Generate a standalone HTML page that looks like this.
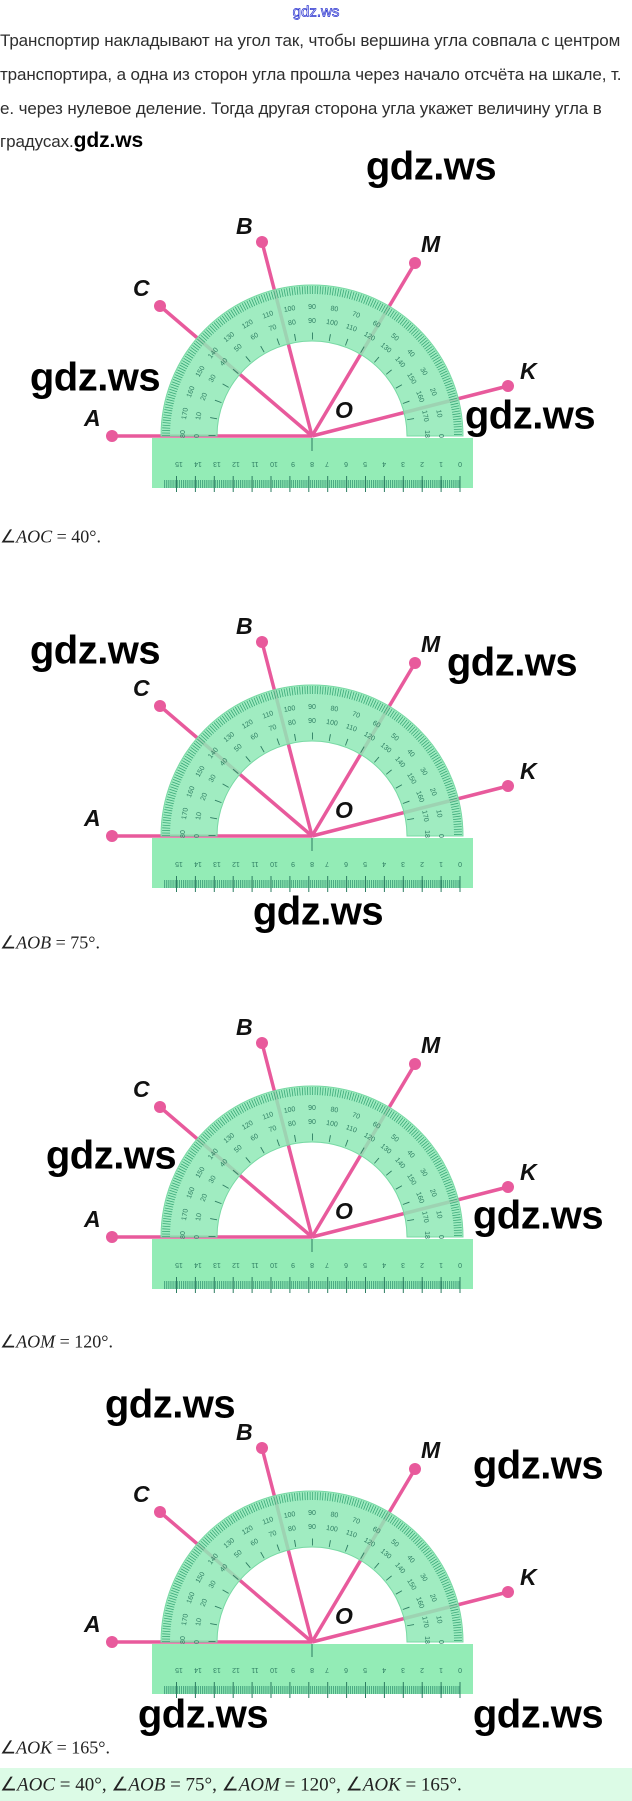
<!DOCTYPE html>
<html><head><meta charset="utf-8"><style>
body{margin:0;width:632px;height:1801px;background:#fff;position:relative;overflow:hidden;font-family:"Liberation Sans",sans-serif}
.t{position:absolute;left:0;white-space:nowrap;font-size:17px;color:#2e2e2e;line-height:34px;letter-spacing:-0.1px}
.w{position:absolute;font-family:"Liberation Sans",sans-serif;font-weight:bold;font-size:40px;color:#000;transform:translate(-50%,-50%);white-space:nowrap;letter-spacing:-0.5px}
.cap{position:absolute;left:0;font-family:"Liberation Serif",serif;font-size:18px;color:#222;transform:translateY(-50%);white-space:nowrap}
svg{position:absolute;left:0}
.lb{font-family:"Liberation Sans",sans-serif;font-weight:bold;font-style:italic;font-size:23px;fill:#111}
.n{font-family:"Liberation Sans",sans-serif;font-size:7px;fill:#2e7d62;text-anchor:middle}
</style></head><body>
<div style="position:absolute;left:316px;top:12px;transform:translate(-50%,-50%);font-size:15px;color:#fff;-webkit-text-stroke:0.7px #2a33d0">gdz.ws</div>
<div class="t" style="top:24px">Транспортир накладывают на угол так, чтобы вершина угла совпала с центром</div>
<div class="t" style="top:58px">транспортира, а одна из сторон угла прошла через начало отсчёта на шкале, т.</div>
<div class="t" style="top:92px">е. через нулевое деление. Тогда другая сторона угла укажет величину угла в</div>
<div class="t" style="top:124px">градусах.<span style="font-size:21px;color:#000;font-weight:bold">gdz.ws</span></div>

<svg style="top:206px" width="632" height="290" viewBox="0 0 632 290">
<g stroke="#e85a9c" stroke-width="3.5"><line x1="312" y1="230" x2="112" y2="230"/><line x1="312" y1="230" x2="160" y2="100"/><line x1="312" y1="230" x2="262" y2="36"/><line x1="312" y1="230" x2="415" y2="57"/><line x1="312" y1="230" x2="508" y2="180"/></g>
<g fill="#e85a9c"><circle cx="112" cy="230" r="6"/><circle cx="160" cy="100" r="6"/><circle cx="262" cy="36" r="6"/><circle cx="415" cy="57" r="6"/><circle cx="508" cy="180" r="6"/></g>
<g transform="translate(312,230)">
<path d="M-151,0 A151,151 0 0 1 151,0 L95,0 A95,95 0 0 0 -95,0 Z" fill="#8fe9b6" fill-opacity=".85" stroke="#78d9a4"/>
<path d="M-146,0 A146,146 0 0 1 146,0" fill="none" stroke="#3aa878" stroke-width="8" stroke-dasharray="0.8 1.75"/>
<path d="M-100,0 A100,100 0 0 1 100,0" fill="none" stroke="#2e7d62" stroke-width="7" stroke-dasharray="0.9 16.55"/>
<g class="n"><text transform="rotate(-90)translate(0,-127)">180</text><text transform="rotate(-80)translate(0,-127)">170</text><text transform="rotate(-70)translate(0,-127)">160</text><text transform="rotate(-60)translate(0,-127)">150</text><text transform="rotate(-50)translate(0,-127)">140</text><text transform="rotate(-40)translate(0,-127)">130</text><text transform="rotate(-30)translate(0,-127)">120</text><text transform="rotate(-20)translate(0,-127)">110</text><text transform="rotate(-10)translate(0,-127)">100</text><text transform="translate(0,-127)">90</text><text transform="rotate(10)translate(0,-127)">80</text><text transform="rotate(20)translate(0,-127)">70</text><text transform="rotate(30)translate(0,-127)">60</text><text transform="rotate(40)translate(0,-127)">50</text><text transform="rotate(50)translate(0,-127)">40</text><text transform="rotate(60)translate(0,-127)">30</text><text transform="rotate(70)translate(0,-127)">20</text><text transform="rotate(80)translate(0,-127)">10</text><text transform="rotate(90)translate(0,-127)">0</text>
<text transform="rotate(-90)translate(0,-113)">0</text><text transform="rotate(-80)translate(0,-113)">10</text><text transform="rotate(-70)translate(0,-113)">20</text><text transform="rotate(-60)translate(0,-113)">30</text><text transform="rotate(-50)translate(0,-113)">40</text><text transform="rotate(-40)translate(0,-113)">50</text><text transform="rotate(-30)translate(0,-113)">60</text><text transform="rotate(-20)translate(0,-113)">70</text><text transform="rotate(-10)translate(0,-113)">80</text><text transform="translate(0,-113)">90</text><text transform="rotate(10)translate(0,-113)">100</text><text transform="rotate(20)translate(0,-113)">110</text><text transform="rotate(30)translate(0,-113)">120</text><text transform="rotate(40)translate(0,-113)">130</text><text transform="rotate(50)translate(0,-113)">140</text><text transform="rotate(60)translate(0,-113)">150</text><text transform="rotate(70)translate(0,-113)">160</text><text transform="rotate(80)translate(0,-113)">170</text><text transform="rotate(90)translate(0,-113)">180</text></g>
<rect x="-160" y="2" width="321" height="50" fill="#93ecb6"/>
<line x1="0" y1="2" x2="0" y2="15" stroke="#2e7d62"/>
<path d="M-148,48 H148" stroke="#3a9a78" stroke-width="8" stroke-dasharray="0.8 1.1"/>
<path d="M-136,48 H150" stroke="#2e7d62" stroke-width="16" stroke-dasharray="1 17.9"/>
<g class="n" transform="rotate(180)"><text x="-148" y="-26">0</text><text x="-129" y="-26">1</text><text x="-110" y="-26">2</text><text x="-91" y="-26">3</text><text x="-72" y="-26">4</text><text x="-53" y="-26">5</text><text x="-34" y="-26">6</text><text x="-15" y="-26">7</text><text x="0" y="-26">8</text><text x="19" y="-26">9</text><text x="38" y="-26">10</text><text x="57" y="-26">11</text><text x="76" y="-26">12</text><text x="95" y="-26">13</text><text x="114" y="-26">14</text><text x="133" y="-26">15</text></g>
</g>
<text class="lb" x="84" y="220">A</text><text class="lb" x="133" y="90">C</text><text class="lb" x="236" y="28">B</text><text class="lb" x="421" y="46">M</text><text class="lb" x="520" y="173">K</text><text class="lb" x="335" y="212">O</text>
</svg>

<svg style="top:606px" width="632" height="290" viewBox="0 0 632 290">
<g stroke="#e85a9c" stroke-width="3.5"><line x1="312" y1="230" x2="112" y2="230"/><line x1="312" y1="230" x2="160" y2="100"/><line x1="312" y1="230" x2="262" y2="36"/><line x1="312" y1="230" x2="415" y2="57"/><line x1="312" y1="230" x2="508" y2="180"/></g>
<g fill="#e85a9c"><circle cx="112" cy="230" r="6"/><circle cx="160" cy="100" r="6"/><circle cx="262" cy="36" r="6"/><circle cx="415" cy="57" r="6"/><circle cx="508" cy="180" r="6"/></g>
<g transform="translate(312,230)">
<path d="M-151,0 A151,151 0 0 1 151,0 L95,0 A95,95 0 0 0 -95,0 Z" fill="#8fe9b6" fill-opacity=".85" stroke="#78d9a4"/>
<path d="M-146,0 A146,146 0 0 1 146,0" fill="none" stroke="#3aa878" stroke-width="8" stroke-dasharray="0.8 1.75"/>
<path d="M-100,0 A100,100 0 0 1 100,0" fill="none" stroke="#2e7d62" stroke-width="7" stroke-dasharray="0.9 16.55"/>
<g class="n"><text transform="rotate(-90)translate(0,-127)">180</text><text transform="rotate(-80)translate(0,-127)">170</text><text transform="rotate(-70)translate(0,-127)">160</text><text transform="rotate(-60)translate(0,-127)">150</text><text transform="rotate(-50)translate(0,-127)">140</text><text transform="rotate(-40)translate(0,-127)">130</text><text transform="rotate(-30)translate(0,-127)">120</text><text transform="rotate(-20)translate(0,-127)">110</text><text transform="rotate(-10)translate(0,-127)">100</text><text transform="translate(0,-127)">90</text><text transform="rotate(10)translate(0,-127)">80</text><text transform="rotate(20)translate(0,-127)">70</text><text transform="rotate(30)translate(0,-127)">60</text><text transform="rotate(40)translate(0,-127)">50</text><text transform="rotate(50)translate(0,-127)">40</text><text transform="rotate(60)translate(0,-127)">30</text><text transform="rotate(70)translate(0,-127)">20</text><text transform="rotate(80)translate(0,-127)">10</text><text transform="rotate(90)translate(0,-127)">0</text>
<text transform="rotate(-90)translate(0,-113)">0</text><text transform="rotate(-80)translate(0,-113)">10</text><text transform="rotate(-70)translate(0,-113)">20</text><text transform="rotate(-60)translate(0,-113)">30</text><text transform="rotate(-50)translate(0,-113)">40</text><text transform="rotate(-40)translate(0,-113)">50</text><text transform="rotate(-30)translate(0,-113)">60</text><text transform="rotate(-20)translate(0,-113)">70</text><text transform="rotate(-10)translate(0,-113)">80</text><text transform="translate(0,-113)">90</text><text transform="rotate(10)translate(0,-113)">100</text><text transform="rotate(20)translate(0,-113)">110</text><text transform="rotate(30)translate(0,-113)">120</text><text transform="rotate(40)translate(0,-113)">130</text><text transform="rotate(50)translate(0,-113)">140</text><text transform="rotate(60)translate(0,-113)">150</text><text transform="rotate(70)translate(0,-113)">160</text><text transform="rotate(80)translate(0,-113)">170</text><text transform="rotate(90)translate(0,-113)">180</text></g>
<rect x="-160" y="2" width="321" height="50" fill="#93ecb6"/>
<line x1="0" y1="2" x2="0" y2="15" stroke="#2e7d62"/>
<path d="M-148,48 H148" stroke="#3a9a78" stroke-width="8" stroke-dasharray="0.8 1.1"/>
<path d="M-136,48 H150" stroke="#2e7d62" stroke-width="16" stroke-dasharray="1 17.9"/>
<g class="n" transform="rotate(180)"><text x="-148" y="-26">0</text><text x="-129" y="-26">1</text><text x="-110" y="-26">2</text><text x="-91" y="-26">3</text><text x="-72" y="-26">4</text><text x="-53" y="-26">5</text><text x="-34" y="-26">6</text><text x="-15" y="-26">7</text><text x="0" y="-26">8</text><text x="19" y="-26">9</text><text x="38" y="-26">10</text><text x="57" y="-26">11</text><text x="76" y="-26">12</text><text x="95" y="-26">13</text><text x="114" y="-26">14</text><text x="133" y="-26">15</text></g>
</g>
<text class="lb" x="84" y="220">A</text><text class="lb" x="133" y="90">C</text><text class="lb" x="236" y="28">B</text><text class="lb" x="421" y="46">M</text><text class="lb" x="520" y="173">K</text><text class="lb" x="335" y="212">O</text>
</svg>

<svg style="top:1007px" width="632" height="290" viewBox="0 0 632 290">
<g stroke="#e85a9c" stroke-width="3.5"><line x1="312" y1="230" x2="112" y2="230"/><line x1="312" y1="230" x2="160" y2="100"/><line x1="312" y1="230" x2="262" y2="36"/><line x1="312" y1="230" x2="415" y2="57"/><line x1="312" y1="230" x2="508" y2="180"/></g>
<g fill="#e85a9c"><circle cx="112" cy="230" r="6"/><circle cx="160" cy="100" r="6"/><circle cx="262" cy="36" r="6"/><circle cx="415" cy="57" r="6"/><circle cx="508" cy="180" r="6"/></g>
<g transform="translate(312,230)">
<path d="M-151,0 A151,151 0 0 1 151,0 L95,0 A95,95 0 0 0 -95,0 Z" fill="#8fe9b6" fill-opacity=".85" stroke="#78d9a4"/>
<path d="M-146,0 A146,146 0 0 1 146,0" fill="none" stroke="#3aa878" stroke-width="8" stroke-dasharray="0.8 1.75"/>
<path d="M-100,0 A100,100 0 0 1 100,0" fill="none" stroke="#2e7d62" stroke-width="7" stroke-dasharray="0.9 16.55"/>
<g class="n"><text transform="rotate(-90)translate(0,-127)">180</text><text transform="rotate(-80)translate(0,-127)">170</text><text transform="rotate(-70)translate(0,-127)">160</text><text transform="rotate(-60)translate(0,-127)">150</text><text transform="rotate(-50)translate(0,-127)">140</text><text transform="rotate(-40)translate(0,-127)">130</text><text transform="rotate(-30)translate(0,-127)">120</text><text transform="rotate(-20)translate(0,-127)">110</text><text transform="rotate(-10)translate(0,-127)">100</text><text transform="translate(0,-127)">90</text><text transform="rotate(10)translate(0,-127)">80</text><text transform="rotate(20)translate(0,-127)">70</text><text transform="rotate(30)translate(0,-127)">60</text><text transform="rotate(40)translate(0,-127)">50</text><text transform="rotate(50)translate(0,-127)">40</text><text transform="rotate(60)translate(0,-127)">30</text><text transform="rotate(70)translate(0,-127)">20</text><text transform="rotate(80)translate(0,-127)">10</text><text transform="rotate(90)translate(0,-127)">0</text>
<text transform="rotate(-90)translate(0,-113)">0</text><text transform="rotate(-80)translate(0,-113)">10</text><text transform="rotate(-70)translate(0,-113)">20</text><text transform="rotate(-60)translate(0,-113)">30</text><text transform="rotate(-50)translate(0,-113)">40</text><text transform="rotate(-40)translate(0,-113)">50</text><text transform="rotate(-30)translate(0,-113)">60</text><text transform="rotate(-20)translate(0,-113)">70</text><text transform="rotate(-10)translate(0,-113)">80</text><text transform="translate(0,-113)">90</text><text transform="rotate(10)translate(0,-113)">100</text><text transform="rotate(20)translate(0,-113)">110</text><text transform="rotate(30)translate(0,-113)">120</text><text transform="rotate(40)translate(0,-113)">130</text><text transform="rotate(50)translate(0,-113)">140</text><text transform="rotate(60)translate(0,-113)">150</text><text transform="rotate(70)translate(0,-113)">160</text><text transform="rotate(80)translate(0,-113)">170</text><text transform="rotate(90)translate(0,-113)">180</text></g>
<rect x="-160" y="2" width="321" height="50" fill="#93ecb6"/>
<line x1="0" y1="2" x2="0" y2="15" stroke="#2e7d62"/>
<path d="M-148,48 H148" stroke="#3a9a78" stroke-width="8" stroke-dasharray="0.8 1.1"/>
<path d="M-136,48 H150" stroke="#2e7d62" stroke-width="16" stroke-dasharray="1 17.9"/>
<g class="n" transform="rotate(180)"><text x="-148" y="-26">0</text><text x="-129" y="-26">1</text><text x="-110" y="-26">2</text><text x="-91" y="-26">3</text><text x="-72" y="-26">4</text><text x="-53" y="-26">5</text><text x="-34" y="-26">6</text><text x="-15" y="-26">7</text><text x="0" y="-26">8</text><text x="19" y="-26">9</text><text x="38" y="-26">10</text><text x="57" y="-26">11</text><text x="76" y="-26">12</text><text x="95" y="-26">13</text><text x="114" y="-26">14</text><text x="133" y="-26">15</text></g>
</g>
<text class="lb" x="84" y="220">A</text><text class="lb" x="133" y="90">C</text><text class="lb" x="236" y="28">B</text><text class="lb" x="421" y="46">M</text><text class="lb" x="520" y="173">K</text><text class="lb" x="335" y="212">O</text>
</svg>

<svg style="top:1412px" width="632" height="290" viewBox="0 0 632 290">
<g stroke="#e85a9c" stroke-width="3.5"><line x1="312" y1="230" x2="112" y2="230"/><line x1="312" y1="230" x2="160" y2="100"/><line x1="312" y1="230" x2="262" y2="36"/><line x1="312" y1="230" x2="415" y2="57"/><line x1="312" y1="230" x2="508" y2="180"/></g>
<g fill="#e85a9c"><circle cx="112" cy="230" r="6"/><circle cx="160" cy="100" r="6"/><circle cx="262" cy="36" r="6"/><circle cx="415" cy="57" r="6"/><circle cx="508" cy="180" r="6"/></g>
<g transform="translate(312,230)">
<path d="M-151,0 A151,151 0 0 1 151,0 L95,0 A95,95 0 0 0 -95,0 Z" fill="#8fe9b6" fill-opacity=".85" stroke="#78d9a4"/>
<path d="M-146,0 A146,146 0 0 1 146,0" fill="none" stroke="#3aa878" stroke-width="8" stroke-dasharray="0.8 1.75"/>
<path d="M-100,0 A100,100 0 0 1 100,0" fill="none" stroke="#2e7d62" stroke-width="7" stroke-dasharray="0.9 16.55"/>
<g class="n"><text transform="rotate(-90)translate(0,-127)">180</text><text transform="rotate(-80)translate(0,-127)">170</text><text transform="rotate(-70)translate(0,-127)">160</text><text transform="rotate(-60)translate(0,-127)">150</text><text transform="rotate(-50)translate(0,-127)">140</text><text transform="rotate(-40)translate(0,-127)">130</text><text transform="rotate(-30)translate(0,-127)">120</text><text transform="rotate(-20)translate(0,-127)">110</text><text transform="rotate(-10)translate(0,-127)">100</text><text transform="translate(0,-127)">90</text><text transform="rotate(10)translate(0,-127)">80</text><text transform="rotate(20)translate(0,-127)">70</text><text transform="rotate(30)translate(0,-127)">60</text><text transform="rotate(40)translate(0,-127)">50</text><text transform="rotate(50)translate(0,-127)">40</text><text transform="rotate(60)translate(0,-127)">30</text><text transform="rotate(70)translate(0,-127)">20</text><text transform="rotate(80)translate(0,-127)">10</text><text transform="rotate(90)translate(0,-127)">0</text>
<text transform="rotate(-90)translate(0,-113)">0</text><text transform="rotate(-80)translate(0,-113)">10</text><text transform="rotate(-70)translate(0,-113)">20</text><text transform="rotate(-60)translate(0,-113)">30</text><text transform="rotate(-50)translate(0,-113)">40</text><text transform="rotate(-40)translate(0,-113)">50</text><text transform="rotate(-30)translate(0,-113)">60</text><text transform="rotate(-20)translate(0,-113)">70</text><text transform="rotate(-10)translate(0,-113)">80</text><text transform="translate(0,-113)">90</text><text transform="rotate(10)translate(0,-113)">100</text><text transform="rotate(20)translate(0,-113)">110</text><text transform="rotate(30)translate(0,-113)">120</text><text transform="rotate(40)translate(0,-113)">130</text><text transform="rotate(50)translate(0,-113)">140</text><text transform="rotate(60)translate(0,-113)">150</text><text transform="rotate(70)translate(0,-113)">160</text><text transform="rotate(80)translate(0,-113)">170</text><text transform="rotate(90)translate(0,-113)">180</text></g>
<rect x="-160" y="2" width="321" height="50" fill="#93ecb6"/>
<line x1="0" y1="2" x2="0" y2="15" stroke="#2e7d62"/>
<path d="M-148,48 H148" stroke="#3a9a78" stroke-width="8" stroke-dasharray="0.8 1.1"/>
<path d="M-136,48 H150" stroke="#2e7d62" stroke-width="16" stroke-dasharray="1 17.9"/>
<g class="n" transform="rotate(180)"><text x="-148" y="-26">0</text><text x="-129" y="-26">1</text><text x="-110" y="-26">2</text><text x="-91" y="-26">3</text><text x="-72" y="-26">4</text><text x="-53" y="-26">5</text><text x="-34" y="-26">6</text><text x="-15" y="-26">7</text><text x="0" y="-26">8</text><text x="19" y="-26">9</text><text x="38" y="-26">10</text><text x="57" y="-26">11</text><text x="76" y="-26">12</text><text x="95" y="-26">13</text><text x="114" y="-26">14</text><text x="133" y="-26">15</text></g>
</g>
<text class="lb" x="84" y="220">A</text><text class="lb" x="133" y="90">C</text><text class="lb" x="236" y="28">B</text><text class="lb" x="421" y="46">M</text><text class="lb" x="520" y="173">K</text><text class="lb" x="335" y="212">O</text>
</svg>

<div class="w" style="left:431px;top:167px">gdz.ws</div>
<div class="w" style="left:95px;top:378px">gdz.ws</div>
<div class="w" style="left:530px;top:416px">gdz.ws</div>
<div class="w" style="left:95px;top:651px">gdz.ws</div>
<div class="w" style="left:512px;top:663px">gdz.ws</div>
<div class="w" style="left:318px;top:912px">gdz.ws</div>
<div class="w" style="left:111px;top:1156px">gdz.ws</div>
<div class="w" style="left:538px;top:1216px">gdz.ws</div>
<div class="w" style="left:170px;top:1405px">gdz.ws</div>
<div class="w" style="left:538px;top:1466px">gdz.ws</div>
<div class="w" style="left:203px;top:1715px">gdz.ws</div>
<div class="w" style="left:538px;top:1715px">gdz.ws</div>

<div class="cap" style="top:537px">∠<i>AOC</i> = 40°.</div>
<div class="cap" style="top:943px">∠<i>AOB</i> = 75°.</div>
<div class="cap" style="top:1342px">∠<i>AOM</i> = 120°.</div>
<div class="cap" style="top:1748px">∠<i>AOK</i> = 165°.</div>
<div style="position:absolute;left:0;top:1768px;width:632px;height:33px;background:#dcfbe6"></div>
<div class="cap" style="top:1785px;font-size:19px">∠<i>AOC</i> = 40°, ∠<i>AOB</i> = 75°, ∠<i>AOM</i> = 120°, ∠<i>AOK</i> = 165°.</div>
</body></html>
